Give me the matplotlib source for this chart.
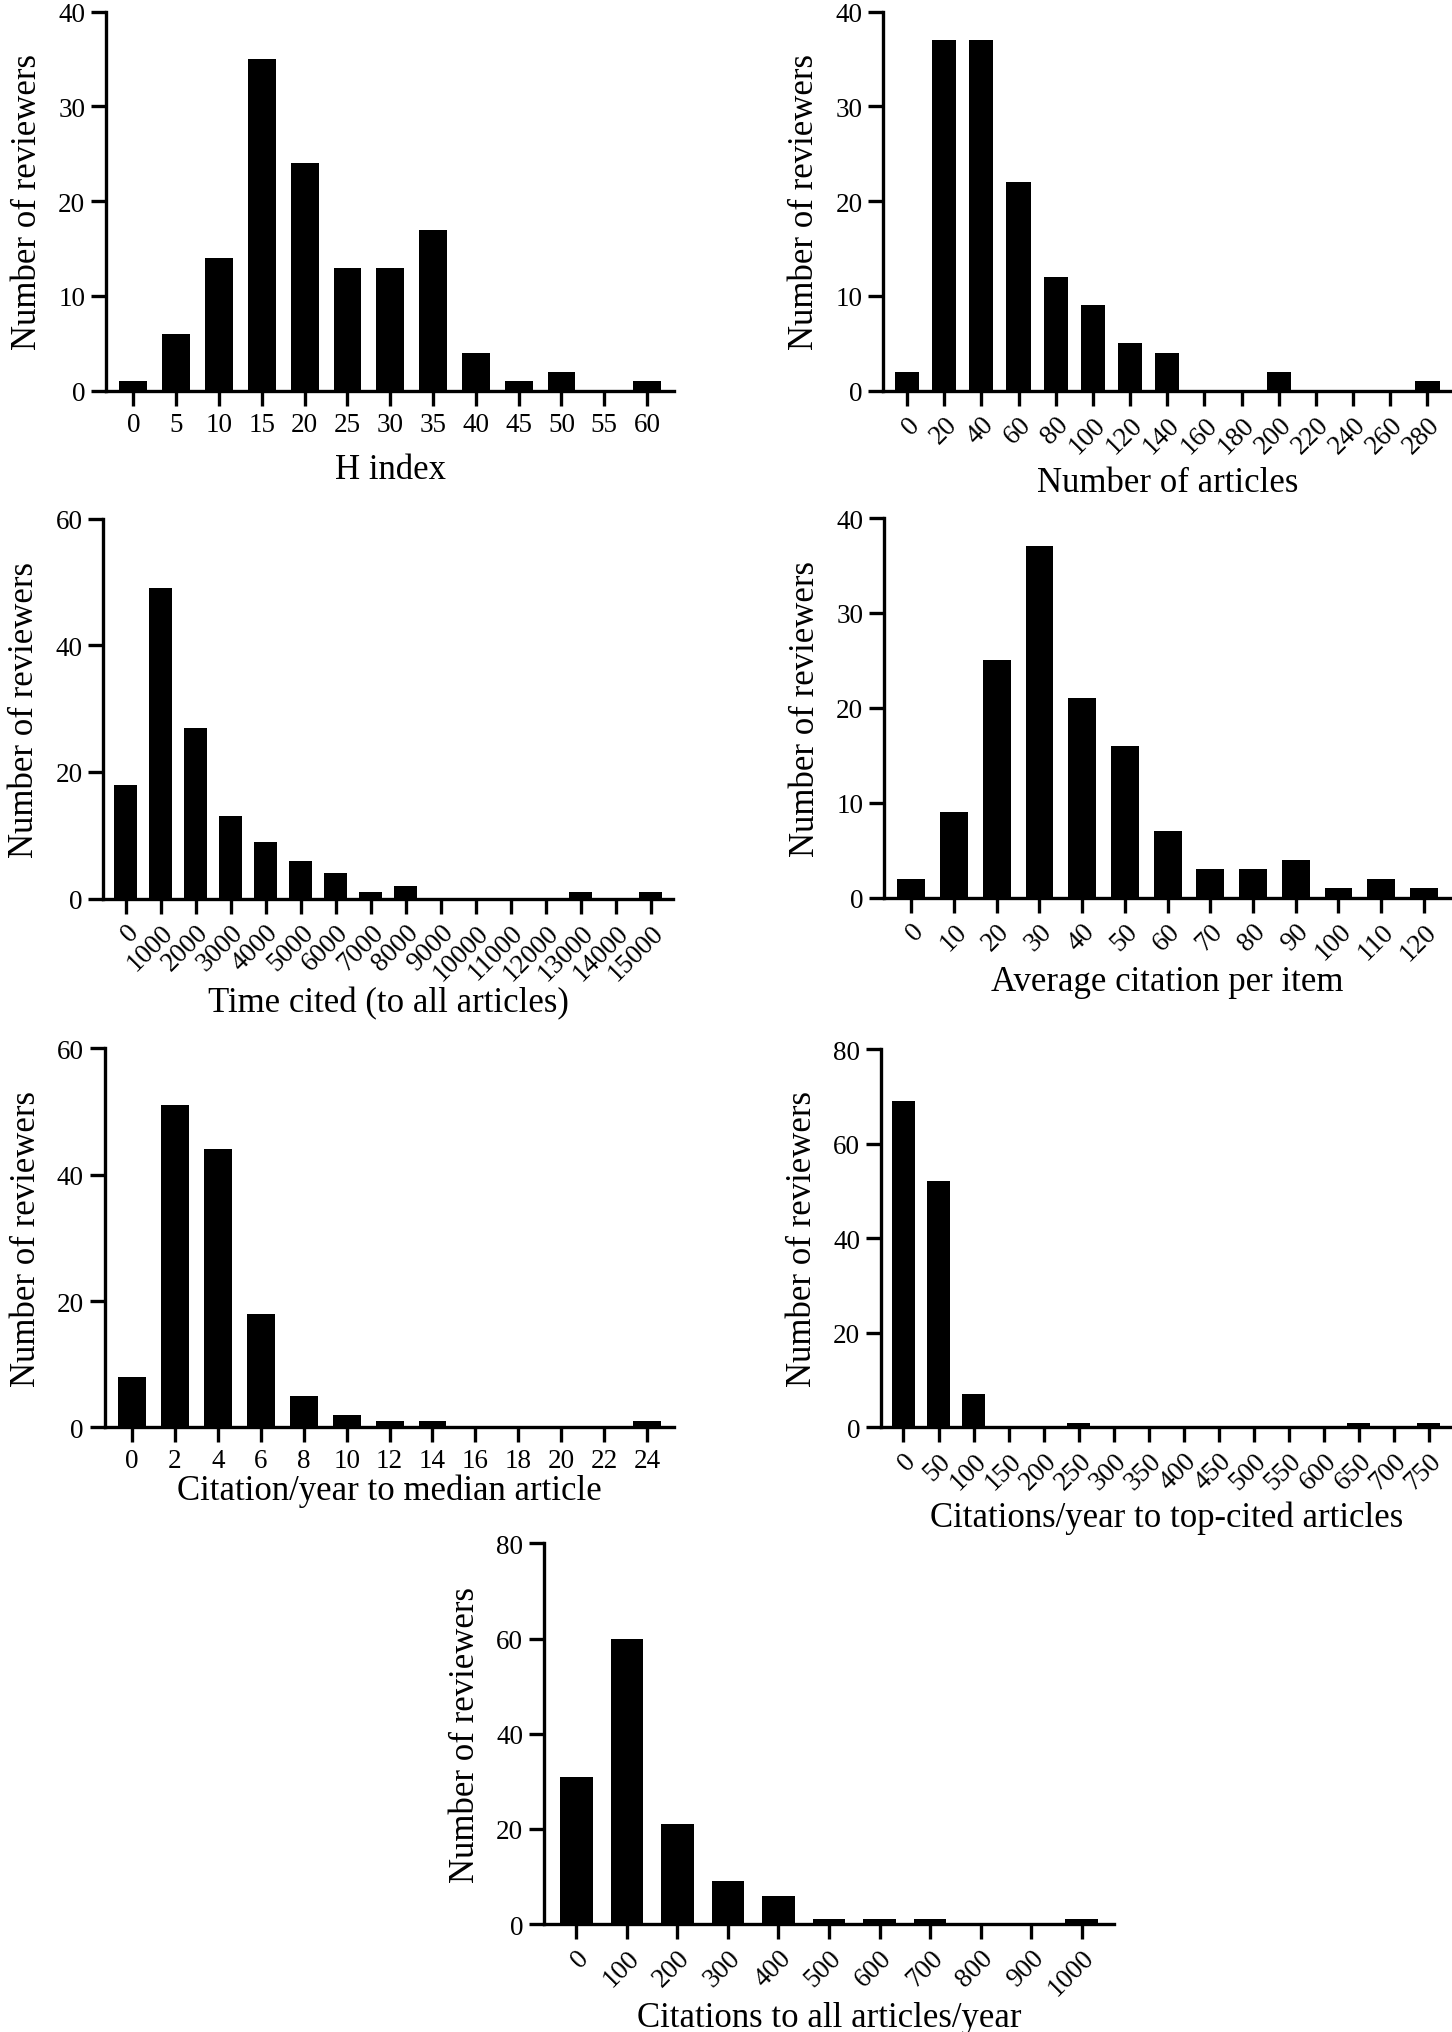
import matplotlib
matplotlib.use("Agg")
import matplotlib.pyplot as plt
from matplotlib.transforms import ScaledTranslation

plt.rcParams['font.family'] = ['Liberation Serif', 'DejaVu Serif']

# bins (x tick labels) and counts per panel
h_bins = [0, 5, 10, 15, 20, 25, 30, 35, 40, 45, 50, 55, 60]
h_counts = [1, 6, 14, 35, 24, 13, 13, 17, 4, 1, 2, 0, 1]

art_bins = [0, 20, 40, 60, 80, 100, 120, 140, 160, 180, 200, 220, 240, 260, 280]
art_counts = [2, 37, 37, 22, 12, 9, 5, 4, 0, 0, 2, 0, 0, 0, 1]

cited_bins = [0, 1000, 2000, 3000, 4000, 5000, 6000, 7000, 8000, 9000,
              10000, 11000, 12000, 13000, 14000, 15000]
cited_counts = [18, 49, 27, 13, 9, 6, 4, 1, 2, 0, 0, 0, 0, 1, 0, 1]

avg_bins = [0, 10, 20, 30, 40, 50, 60, 70, 80, 90, 100, 110, 120]
avg_counts = [2, 9, 25, 37, 21, 16, 7, 3, 3, 4, 1, 2, 1]

med_bins = [0, 2, 4, 6, 8, 10, 12, 14, 16, 18, 20, 22, 24]
med_counts = [8, 51, 44, 18, 5, 2, 1, 1, 0, 0, 0, 0, 1]

top_bins = [0, 50, 100, 150, 200, 250, 300, 350, 400, 450, 500, 550, 600,
            650, 700, 750]
top_counts = [69, 52, 7, 0, 0, 1, 0, 0, 0, 0, 0, 0, 0, 1, 0, 1]

all_bins = [0, 100, 200, 300, 400, 500, 600, 700, 800, 900, 1000]
all_counts = [31, 60, 21, 9, 6, 1, 1, 1, 0, 0, 1]


def draw_panel(rect, bins, counts, xlabel, ymax, ystep, rotate, labelpad):
    ax = fig.add_axes(rect)
    pos = list(range(len(bins)))
    ax.bar(pos, counts, width=0.65, color='black', linewidth=0)
    ax.set_xlim(-0.64, len(bins) - 1 + 0.64)
    ax.set_ylim(0, ymax)
    ax.set_yticks(list(range(0, ymax + 1, ystep)))
    ax.set_xticks(pos)
    if rotate:
        ax.set_xticklabels([str(b) for b in bins], rotation=45, ha='right',
                           rotation_mode='anchor')
        # rotated labels sit a bit right of the tick in the original
        shift = ScaledTranslation(0.08, -0.02, fig.dpi_scale_trans)
        for lab in ax.get_xticklabels():
            lab.set_transform(lab.get_transform() + shift)
    else:
        ax.set_xticklabels([str(b) for b in bins])
    for side in ['top', 'right']:
        ax.spines[side].set_visible(False)
    for side in ['left', 'bottom']:
        ax.spines[side].set_linewidth(2.4)
    ax.tick_params(axis='both', direction='out', length=11, width=2.4,
                   labelsize=19.5, pad=4)
    ax.set_xlabel(xlabel, fontsize=25, labelpad=labelpad)
    ax.set_ylabel('Number of reviewers', fontsize=25, labelpad=10)
    return ax


fig = plt.figure(figsize=(14.52, 20.33), dpi=100)

draw_panel([0.0730, 0.8073, 0.3915, 0.1865], h_bins, h_counts,
           'H index', 40, 10, False, 12)
draw_panel([0.6083, 0.8073, 0.3912, 0.1865], art_bins, art_counts,
           'Number of articles', 40, 10, True, 6)
draw_panel([0.0711, 0.5575, 0.3924, 0.1869], cited_bins, cited_counts,
           'Time cited (to all articles)', 60, 20, True, 1)
draw_panel([0.6088, 0.5580, 0.3907, 0.1867], avg_bins, avg_counts,
           'Average citation per item', 40, 10, True, 0)
draw_panel([0.0721, 0.2974, 0.3924, 0.1865], med_bins, med_counts,
           'Citation/year to median article', 60, 20, False, 0)
draw_panel([0.6068, 0.2974, 0.3927, 0.1861], top_bins, top_counts,
           'Citations/year to top-cited articles', 80, 20, True, 4)
draw_panel([0.3747, 0.0531, 0.3925, 0.1872], all_bins, all_counts,
           'Citations to all articles/year', 80, 20, True, 0)

fig.savefig('out.png', dpi=100)
